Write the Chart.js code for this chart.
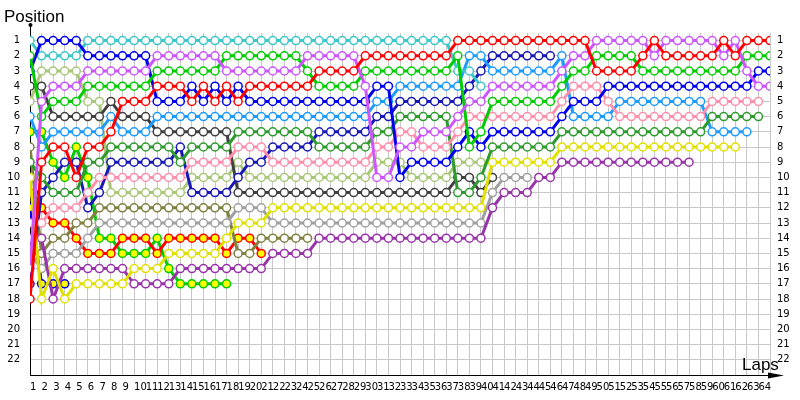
<!DOCTYPE html>
<html>
<head>
<meta charset="utf-8">
<script src="https://cdn.jsdelivr.net/npm/chart.js@4/dist/chart.umd.min.js"></script>
<style>
  html, body { margin: 0; padding: 0; background: #fff; }
  #wrap { width: 800px; height: 400px; }
</style>
</head>
<body>
<div id="wrap"><canvas id="lapChart"></canvas></div>
<script>
// lap 0 is the starting grid; each array holds the position at the end of each lap
const laps = Array.from({ length: 65 }, (_, i) => i);
const lapLabels = Array.from({ length: 64 }, (_, i) => String(i + 1));
const positions = Array.from({ length: 22 }, (_, i) => i + 1);

const red = [18,9,8,8,10,8,8,7,5,5, 5,4,4,4,5,4,5,4,5,4, 4,4,4,4,4,3,3,3,3,2, 2,2,2,2,2,2,2,1,1,1, 1,1,1,1,1,1,1,1,1,3, 3,3,3,2,1,2,2,2,2,2, 1,2,1,1,1];
const magenta = [16,5,4,4,4,3,3,3,3,3, 3,2,2,2,2,2,2,3,3,3, 3,3,3,3,2,2,2,2,2,4, 10,10,8,8,7,7,7,6,5,5, 4,4,4,4,4,4,3,2,2,1, 1,1,1,1,2,1,1,1,1,1, 2,1,3,4,4];
const green = [2,6,5,5,5,4,4,4,4,4, 4,3,3,3,3,3,3,2,2,2, 2,2,2,2,3,4,4,4,4,3, 3,3,3,3,3,3,3,2,8,7, 5,5,5,5,5,5,4,3,3,2, 2,2,2,3,3,3,3,3,3,3, 3,3,2,2,2];
const blue = [3,1,1,1,1,2,2,2,2,2, 2,5,5,5,4,5,4,5,4,5, 5,5,5,5,5,5,5,5,5,5, 4,4,10,9,9,9,9,8,7,8, 7,7,7,7,7,7,6,5,5,5, 4,4,4,4,4,4,4,4,4,4, 4,4,4,3,3];
const cyan = [1,2,2,2,2,1,1,1,1,1, 1,1,1,1,1,1,1,1,1,1, 1,1,1,1,1,1,1,1,1,1, 1,1,1,1,1,1,1,3,3,4];
const dodger = [6,8,7,7,7,7,7,6,7,7, 7,6,6,6,6,6,6,6,6,6, 6,6,6,6,6,6,6,6,6,6, 5,5,4,4,4,4,4,4,2,2, 3,3,3,3,3,3,2,6,6,6, 6,5,5,5,5,5,5,5,5,7, 7,7,7];
const navy = [17,11,10,9,9,12,11,9,9,9, 9,9,9,8,11,11,11,11,10,9, 9,8,8,8,8,7,7,7,7,7, 6,6,5,5,5,5,5,5,4,3, 2,2,2,2,2,2];
const darkGray = [4,4,6,6,6,6,6,5,6,6, 6,7,7,7,7,7,7,7,11,11, 11,11,11,11,11,11,11,11,11,11, 11,11,11,11,11,11,11,10,10,11, 10];
const lightOlive = [5,3,3,3,3,5,5,11,11,11, 11,11,11,11,10,10,10,10,9,10, 10,10,10,10,10,10,10,10,10,10, 9,9,9,10,10,10,10,9,9,9];
const darkGreen = [9,10,11,11,11,9,9,8,8,8, 8,8,8,9,8,8,8,8,7,7, 7,7,7,7,7,8,8,8,8,8, 7,7,6,6,6,6,6,11,11,10, 8,8,8,8,8,8,7,7,7,7, 7,7,7,7,7,7,7,7,7,6, 6,6,6,6];
const pink = [13,13,12,12,12,11,10,10,10,10, 10,10,10,10,9,9,9,9,8,8, 8,9,9,9,9,9,9,9,9,9, 8,8,7,7,8,8,8,7,6,6, 6,6,6,6,6,6,5,4,4,4, 5,6,6,6,6,6,6,6,6,5, 5,5,5,5];
const yellow = [10,18,16,18,17,17,17,17,17,16, 16,16,15,15,15,15,15,14,13,13, 13,12,12,12,12,12,12,12,12,12, 12,12,12,12,12,12,12,12,12,12, 9,9,9,9,9,9,8,8,8,8, 8,8,8,8,8,8,8,8,8,8, 8,8];
const darkPurple = [14,14,18,16,16,16,16,16,16,17, 17,17,17,16,16,16,16,16,16,16, 16,15,15,15,15,14,14,14,14,14, 14,14,14,14,14,14,14,14,14,14, 12,11,11,11,10,10,9,9,9,9, 9,9,9,9,9,9,9,9];
const gray = [15,16,15,15,15,14,13,13,13,13, 13,13,13,13,13,13,13,13,12,12, 12,13,13,13,13,13,13,13,13,13, 13,13,13,13,13,13,13,13,13,13, 11,10,10,10];
const olive = [8,15,14,14,13,13,12,12,12,12, 12,12,12,12,12,12,12,12,15,15, 14,14,14,14,14];
const redYellow = [11,12,13,13,14,15,15,15,14,14, 14,15,14,14,14,14,14,15,14,14, 15];
const greenYellow = [7,7,9,10,8,10,14,14,15,15, 15,14,16,17,17,17,17,17];
const blueYellow = [12,17,17,17];

const drivers = [
    { data: red, color: '#ff0000', fill: '#ffffff' },
    { data: magenta, color: '#cc55ff', fill: '#ffffff' },
    { data: green, color: '#00cc00', fill: '#ffffff' },
    { data: blue, color: '#0000ee', fill: '#ffffff' },
    { data: cyan, color: '#3cc8c8', fill: '#ffffff' },
    { data: pink, color: '#ff8fab', fill: '#ffffff' },
    { data: darkGreen, color: '#2e9b2e', fill: '#ffffff' },
    { data: dodger, color: '#1e9bff', fill: '#ffffff' },
    { data: yellow, color: '#e0e000', fill: '#ffffff' },
    { data: darkPurple, color: '#9933aa', fill: '#ffffff' },
    { data: navy, color: '#1818b8', fill: '#ffffff' },
    { data: darkGray, color: '#404040', fill: '#ffffff' },
    { data: lightOlive, color: '#a8c878', fill: '#ffffff' },
    { data: gray, color: '#a0a0a0', fill: '#ffffff' },
    { data: olive, color: '#808040', fill: '#ffffff' },
    { data: redYellow, color: '#ff0000', fill: '#ffff00' },
    { data: greenYellow, color: '#00cc00', fill: '#ffff00' },
    { data: blueYellow, color: '#0000ee', fill: '#ffff00' }
];

const tickFont = { family: '"DejaVu Sans", Tahoma, sans-serif', size: 10 };

// one tick (and grid line) per position, 1 to 22
function positionTicks(scale) {
    scale.ticks = positions.map(function(v) { return { value: v }; });
}

// axis lines, arrow heads and the two axis titles
const decor = {
    id: 'decor',
    beforeDatasetsDraw(chart) {
        const { ctx, chartArea: a } = chart;
        ctx.save();
        ctx.strokeStyle = '#000';
        ctx.fillStyle = '#000';
        ctx.lineWidth = 1;
        ctx.beginPath();
        ctx.moveTo(a.left + 0.5, 25);
        ctx.lineTo(a.left + 0.5, a.bottom);
        ctx.moveTo(a.left, a.bottom + 0.5);
        ctx.lineTo(a.right + 8, a.bottom + 0.5);
        ctx.stroke();
        ctx.beginPath();
        ctx.arc(a.left + 0.5, 25, 2, 0, Math.PI * 2);
        ctx.fill();
        ctx.beginPath();
        ctx.moveTo(a.right + 14, a.bottom + 0.5);
        ctx.lineTo(a.right - 2, a.bottom - 2.5);
        ctx.lineTo(a.right - 2, a.bottom + 3.5);
        ctx.closePath();
        ctx.fill();
        ctx.restore();
    },
    afterDraw(chart) {
        const { ctx } = chart;
        ctx.save();
        ctx.fillStyle = '#000';
        ctx.font = '17px "Liberation Sans", Arial, sans-serif';
        ctx.textBaseline = 'alphabetic';
        ctx.fillText('Position', 4, 22);
        ctx.fillText('Laps', 742, 370);
        ctx.restore();
    }
};

document.addEventListener('DOMContentLoaded', function() {
    const ctx = document.getElementById('lapChart');

    new Chart(ctx.getContext('2d'), {
        type: 'line',
        data: {
            datasets: drivers.map(function(d) {
                return {
                    data: d.data.map(function(p, i) { return { x: laps[i], y: p }; }),
                    borderColor: d.color,
                    backgroundColor: d.fill,
                    pointBackgroundColor: d.fill,
                    pointBorderColor: d.color,
                    borderWidth: 3,
                    pointRadius: 4,
                    pointBorderWidth: 1.5,
                    pointHoverRadius: 4,
                    tension: 0,
                    fill: false
                };
            })
        },
        options: {
            responsive: true,
            maintainAspectRatio: false,
            animation: false,
            layout: { padding: { top: 33, left: 0, right: 0, bottom: 0 } },
            plugins: {
                legend: { display: false },
                tooltip: { enabled: false }
            },
            scales: {
                x: {
                    type: 'linear',
                    min: 0,
                    max: 64,
                    border: { display: false },
                    grid: { color: '#c8c8c8', drawTicks: false },
                    afterFit: function(s) { s.height = 25; },
                    ticks: {
                        stepSize: 1,
                        autoSkip: false,
                        maxRotation: 0,
                        minRotation: 0,
                        align: 'start',
                        padding: 6,
                        color: '#000',
                        font: tickFont,
                        callback: function(v) { return lapLabels[v] || ''; }
                    }
                },
                y: {
                    type: 'linear',
                    position: 'left',
                    reverse: true,
                    min: 0.5,
                    max: 23,
                    border: { display: false },
                    grid: { drawTicks: false, color: '#c8c8c8' },
                    afterBuildTicks: positionTicks,
                    afterFit: function(s) { s.width = 30; },
                    ticks: {
                        autoSkip: false,
                        padding: 10,
                        color: '#000',
                        font: tickFont
                    }
                },
                y2: {
                    type: 'linear',
                    position: 'right',
                    reverse: true,
                    min: 0.5,
                    max: 23,
                    border: { display: false },
                    grid: { display: false, drawTicks: false },
                    afterBuildTicks: positionTicks,
                    afterFit: function(s) { s.width = 30; },
                    ticks: {
                        autoSkip: false,
                        padding: 7,
                        color: '#000',
                        font: tickFont
                    }
                }
            }
        },
        plugins: [decor]
    });
});
</script>
</body>
</html>
